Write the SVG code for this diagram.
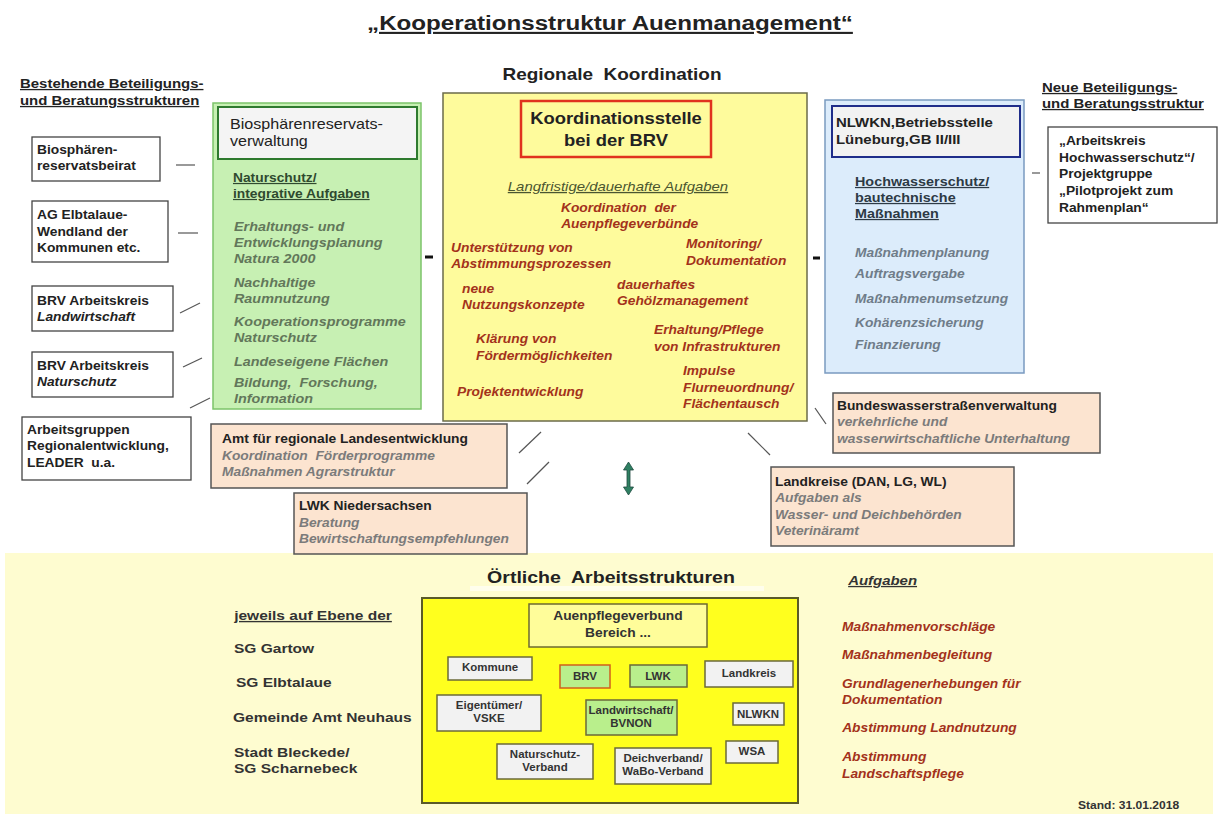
<svg xmlns="http://www.w3.org/2000/svg" width="1218" height="814" viewBox="0 0 1218 814">
<style>
text{font-family:"Liberation Sans",Arial,sans-serif;fill:#222;transform-box:fill-box;transform-origin:0 0;transform:scaleX(1.15)}
.m{text-anchor:middle;transform-origin:50% 0}
.b{font-weight:bold}
.i{font-style:italic}
.u{text-decoration:underline}
.f10{font-size:10px}
.f12{font-size:12px}
.f125{font-size:12.5px}
.f13{font-size:13px}
.red{fill:#a3321b}
.gi{fill:#62775a}
.bi{fill:#6f7c89}
.pi{fill:#7b7b7b}
.dk{fill:#333}
.box{fill:#fff;stroke:#444;stroke-width:1.3}
.peach{fill:#fce4d0;stroke:#555;stroke-width:1.5}
.sb{fill:#f2f2f2;stroke:#6b6a3a;stroke-width:1.5}
.gb{fill:#b9ef8c;stroke:#6b6a3a;stroke-width:1.5}
.ln{stroke:#555;stroke-width:1.2;fill:none}
.dash{stroke:#111;stroke-width:3}
</style>
<rect width="1218" height="814" fill="#fff"/>
<rect x="5" y="553" width="1208" height="261" fill="#fefcd0"/>
<rect x="470" y="586" width="294" height="5" fill="#fff" opacity="0.6"/>

<g id="title">
<text class="m b u" x="610" y="30" font-size="21">„Kooperationsstruktur Auenmanagement“</text>
</g>
<g id="regional-heading">
<text class="m b" x="612" y="80" font-size="16.5" xml:space="preserve">Regionale  Koordination</text>
</g>
<g id="left-heading">
<text class="b u f13" x="20" y="88">Bestehende Beteiligungs-</text>
<text class="b u f13" x="20" y="105">und Beratungsstrukturen</text>
</g>
<g id="right-heading">
<text class="b u f13" x="1042" y="92">Neue Beteiligungs-</text>
<text class="b u f13" x="1042" y="108">und Beratungsstruktur</text>
</g>

<g id="connectors">
<line class="ln" x1="176" y1="165" x2="195" y2="165"/>
<line class="ln" x1="178" y1="233" x2="198" y2="233"/>
<line class="ln" x1="180" y1="313" x2="200" y2="303"/>
<line class="ln" x1="183" y1="367" x2="202" y2="358"/>
<line class="ln" x1="190" y1="408" x2="210" y2="398"/>
<line class="ln" x1="519" y1="453" x2="541" y2="432"/>
<line class="ln" x1="527" y1="484" x2="549" y2="462"/>
<line class="ln" x1="815" y1="408" x2="826" y2="424"/>
<line class="ln" x1="748" y1="433" x2="770" y2="455"/>
<line class="ln" x1="1032" y1="173" x2="1040" y2="173"/>
<line class="dash" x1="425" y1="257" x2="433" y2="257"/>
<line class="dash" x1="813" y1="258" x2="820" y2="258"/>
<polygon points="628.5,462 633.5,470 630,470 630,487 633.5,487 628.5,495 623.5,487 627,487 627,470 623.5,470" fill="#2f8062" stroke="#1e4a40" stroke-width="0.8"/>
</g>

<g id="beirat">
<rect class="box" x="32" y="137" width="128" height="44"/>
<text class="b f12" x="37" y="154">Biosphären-</text>
<text class="b f12" x="37" y="170">reservatsbeirat</text>
</g>
<g id="ag-elbtalaue">
<rect class="box" x="32" y="201" width="136" height="61"/>
<text class="b f12" x="37" y="219">AG Elbtalaue-</text>
<text class="b f12" x="37" y="236">Wendland der</text>
<text class="b f12" x="37" y="252">Kommunen etc.</text>
</g>
<g id="ak-landwirtschaft">
<rect class="box" x="32" y="286" width="141" height="45"/>
<text class="b f12" x="37" y="305">BRV Arbeitskreis</text>
<text class="b i f12" x="37" y="321">Landwirtschaft</text>
</g>
<g id="ak-naturschutz">
<rect class="box" x="32" y="352" width="141" height="45"/>
<text class="b f12" x="37" y="370">BRV Arbeitskreis</text>
<text class="b i f12" x="37" y="386">Naturschutz</text>
</g>
<g id="arbeitsgruppen">
<rect class="box" x="22" y="417" width="169" height="63"/>
<text class="b f12" x="27" y="434">Arbeitsgruppen</text>
<text class="b f12" x="27" y="450">Regionalentwicklung,</text>
<text class="b f12" x="27" y="467" xml:space="preserve">LEADER  u.a.</text>
</g>

<g id="brv-verwaltung">
<rect x="213" y="103" width="208" height="306" fill="#c7f0b3" stroke="#7cc46a" stroke-width="1.5"/>
<rect x="218" y="107" width="199" height="52" fill="#f4f4f4" stroke="#2e7a2e" stroke-width="2"/>
<text x="230" y="129" font-size="14">Biosphärenreservats-</text>
<text x="230" y="146" font-size="14">verwaltung</text>
<text class="b u f12" x="233" y="182" fill="#2f4a2f" style="fill:#2f4a2f">Naturschutz/</text>
<text class="b u f12" x="233" y="198" style="fill:#2f4a2f">integrative Aufgaben</text>
<text class="b i f125 gi" x="234" y="231">Erhaltungs- und</text>
<text class="b i f125 gi" x="234" y="247">Entwicklungsplanung</text>
<text class="b i f125 gi" x="234" y="263">Natura 2000</text>
<text class="b i f125 gi" x="234" y="287">Nachhaltige</text>
<text class="b i f125 gi" x="234" y="303">Raumnutzung</text>
<text class="b i f125 gi" x="234" y="326">Kooperationsprogramme</text>
<text class="b i f125 gi" x="234" y="342">Naturschutz</text>
<text class="b i f125 gi" x="234" y="366">Landeseigene Flächen</text>
<text class="b i f125 gi" x="234" y="387" xml:space="preserve">Bildung,  Forschung,</text>
<text class="b i f125 gi" x="234" y="403">Information</text>
</g>

<g id="koordination">
<rect x="443" y="93" width="364" height="328" fill="#fefb9c" stroke="#6b6b4a" stroke-width="1.5"/>
<rect x="521" y="101" width="190" height="56" fill="#fefb9c" stroke="#e0321e" stroke-width="2.5"/>
<text class="m b" x="616" y="124" font-size="16">Koordinationsstelle</text>
<text class="m b" x="616" y="146" font-size="16">bei der BRV</text>
<text class="m i u" x="618" y="191" font-size="13" style="fill:#4a5530">Langfristige/dauerhafte Aufgaben</text>
<text class="b i f12 red" x="561" y="212" xml:space="preserve">Koordination  der</text>
<text class="b i f12 red" x="561" y="228">Auenpflegeverbünde</text>
<text class="b i f12 red" x="451" y="252">Unterstützung von</text>
<text class="b i f12 red" x="451" y="268">Abstimmungsprozessen</text>
<text class="b i f12 red" x="686" y="248">Monitoring/</text>
<text class="b i f12 red" x="686" y="265">Dokumentation</text>
<text class="b i f12 red" x="462" y="293">neue</text>
<text class="b i f12 red" x="462" y="309">Nutzungskonzepte</text>
<text class="b i f12 red" x="617" y="289">dauerhaftes</text>
<text class="b i f12 red" x="617" y="305">Gehölzmanagement</text>
<text class="b i f12 red" x="476" y="343">Klärung von</text>
<text class="b i f12 red" x="476" y="360">Fördermöglichkeiten</text>
<text class="b i f12 red" x="654" y="334">Erhaltung/Pflege</text>
<text class="b i f12 red" x="654" y="351">von Infrastrukturen</text>
<text class="b i f12 red" x="457" y="396">Projektentwicklung</text>
<text class="b i f12 red" x="683" y="375">Impulse</text>
<text class="b i f12 red" x="683" y="392">Flurneuordnung/</text>
<text class="b i f12 red" x="683" y="408">Flächentausch</text>
</g>

<g id="nlwkn">
<rect x="825" y="100" width="199" height="273" fill="#dcecfb" stroke="#7a9ac0" stroke-width="1.5"/>
<rect x="832" y="106" width="188" height="51" fill="#f2f2f2" stroke="#1f2d8a" stroke-width="2"/>
<text class="b f13" x="836" y="127">NLWKN,Betriebsstelle</text>
<text class="b f13" x="836" y="144">Lüneburg,GB II/III</text>
<text class="b u f125" x="855" y="186" style="fill:#2d3a45">Hochwasserschutz/</text>
<text class="b u f125" x="855" y="202" style="fill:#2d3a45">bautechnische</text>
<text class="b u f125" x="855" y="218" style="fill:#2d3a45">Maßnahmen</text>
<text class="b i f12 bi" x="855" y="257">Maßnahmenplanung</text>
<text class="b i f12 bi" x="855" y="278">Auftragsvergabe</text>
<text class="b i f12 bi" x="855" y="303">Maßnahmenumsetzung</text>
<text class="b i f12 bi" x="855" y="327">Kohärenzsicherung</text>
<text class="b i f12 bi" x="855" y="349">Finanzierung</text>
</g>

<g id="ak-hochwasser">
<rect class="box" x="1048" y="127" width="169" height="96"/>
<text class="b f12" x="1059" y="145">„Arbeitskreis</text>
<text class="b f12" x="1059" y="162">Hochwasserschutz“/</text>
<text class="b f12" x="1059" y="178">Projektgruppe</text>
<text class="b f12" x="1059" y="195">„Pilotprojekt zum</text>
<text class="b f12" x="1059" y="212">Rahmenplan“</text>
</g>

<g id="amt-landesentwicklung">
<rect class="peach" x="211" y="424" width="296" height="64"/>
<text class="b f12" x="222" y="443">Amt für regionale Landesentwicklung</text>
<text class="b i f12 pi" x="222" y="460" xml:space="preserve">Koordination  Förderprogramme</text>
<text class="b i f12 pi" x="222" y="476">Maßnahmen Agrarstruktur</text>
</g>
<g id="lwk">
<rect class="peach" x="294" y="493" width="233" height="61"/>
<text class="b f12" x="299" y="510">LWK Niedersachsen</text>
<text class="b i f12 pi" x="299" y="527">Beratung</text>
<text class="b i f12 pi" x="299" y="543">Bewirtschaftungsempfehlungen</text>
</g>
<g id="wsv">
<rect class="peach" x="833" y="393" width="267" height="60"/>
<text class="b f12" x="837" y="410">Bundeswasserstraßenverwaltung</text>
<text class="b i f12 pi" x="837" y="426">verkehrliche und</text>
<text class="b i f12 pi" x="837" y="443">wasserwirtschaftliche Unterhaltung</text>
</g>
<g id="landkreise">
<rect class="peach" x="771" y="467" width="243" height="79"/>
<text class="b f12" x="775" y="486">Landkreise (DAN, LG, WL)</text>
<text class="b i f12 pi" x="775" y="502">Aufgaben als</text>
<text class="b i f12 pi" x="775" y="519">Wasser- und Deichbehörden</text>
<text class="b i f12 pi" x="775" y="535">Veterinäramt</text>
</g>

<g id="oertlich-heading">
<text class="m b" x="611" y="583" font-size="17" xml:space="preserve">Örtliche  Arbeitsstrukturen</text>
</g>
<g id="ebenen">
<text class="b u dk" x="234" y="620" font-size="13.5">jeweils auf Ebene der</text>
<text class="b dk" x="234" y="653" font-size="13.5">SG Gartow</text>
<text class="b dk" x="236" y="687" font-size="13.5">SG Elbtalaue</text>
<text class="b dk" x="233" y="722" font-size="13.5">Gemeinde Amt Neuhaus</text>
<text class="b dk" x="234" y="757" font-size="13.5">Stadt Bleckede/</text>
<text class="b dk" x="234" y="773" font-size="13.5">SG Scharnebeck</text>
</g>
<g id="aufgaben">
<text class="b i u f13 dk" x="848" y="585">Aufgaben</text>
<text class="b i f12 red" x="842" y="631">Maßnahmenvorschläge</text>
<text class="b i f12 red" x="842" y="659">Maßnahmenbegleitung</text>
<text class="b i f12 red" x="842" y="688">Grundlagenerhebungen für</text>
<text class="b i f12 red" x="842" y="704">Dokumentation</text>
<text class="b i f12 red" x="842" y="732">Abstimmung Landnutzung</text>
<text class="b i f12 red" x="842" y="761">Abstimmung</text>
<text class="b i f12 red" x="842" y="778">Landschaftspflege</text>
</g>
<g id="stand">
<text class="b dk" x="1078" y="809" font-size="10.5">Stand: 31.01.2018</text>
</g>

<g id="auenpflegeverbund-rahmen">
<rect x="422" y="598" width="376" height="205" fill="#ffff1e" stroke="#5a5a28" stroke-width="2"/>
</g>
<g id="auenpflegeverbund">
<rect x="529" y="604" width="178" height="43" fill="#fffd9a" stroke="#6e6a30" stroke-width="1.5"/>
<text class="m b f12 dk" x="618" y="620">Auenpflegeverbund</text>
<text class="m b f12 dk" x="618" y="637">Bereich ...</text>
</g>
<g id="kommune">
<rect class="sb" x="448" y="657" width="84" height="23"/>
<text class="m b f10 dk" x="490" y="671">Kommune</text>
</g>
<g id="brv">
<rect x="560" y="665" width="50" height="23" fill="#b9ef8c" stroke="#d0601c" stroke-width="1.5"/>
<text class="m b f10 dk" x="585" y="680">BRV</text>
</g>
<g id="lwk-klein">
<rect class="gb" x="630" y="665" width="57" height="22"/>
<text class="m b f10 dk" x="658" y="680">LWK</text>
</g>
<g id="landkreis">
<rect class="sb" x="705" y="661" width="88" height="26"/>
<text class="m b f10 dk" x="749" y="677">Landkreis</text>
</g>
<g id="eigentuemer">
<rect class="sb" x="437" y="695" width="104" height="36"/>
<text class="m b f10 dk" x="489" y="709">Eigentümer/</text>
<text class="m b f10 dk" x="489" y="722">VSKE</text>
</g>
<g id="landwirtschaft">
<rect class="gb" x="586" y="700" width="91" height="35"/>
<text class="m b f10 dk" x="631" y="714">Landwirtschaft/</text>
<text class="m b f10 dk" x="631" y="727">BVNON</text>
</g>
<g id="nlwkn-klein">
<rect class="sb" x="733" y="703" width="51" height="22"/>
<text class="m b f10 dk" x="758" y="718">NLWKN</text>
</g>
<g id="naturschutzverband">
<rect class="sb" x="497" y="744" width="96" height="35"/>
<text class="m b f10 dk" x="545" y="758">Naturschutz-</text>
<text class="m b f10 dk" x="545" y="771">Verband</text>
</g>
<g id="deichverband">
<rect class="sb" x="615" y="748" width="96" height="36"/>
<text class="m b f10 dk" x="663" y="762">Deichverband/</text>
<text class="m b f10 dk" x="663" y="775">WaBo-Verband</text>
</g>
<g id="wsa">
<rect class="sb" x="726" y="741" width="52" height="22"/>
<text class="m b f10 dk" x="752" y="755">WSA</text>
</g>
</svg>
